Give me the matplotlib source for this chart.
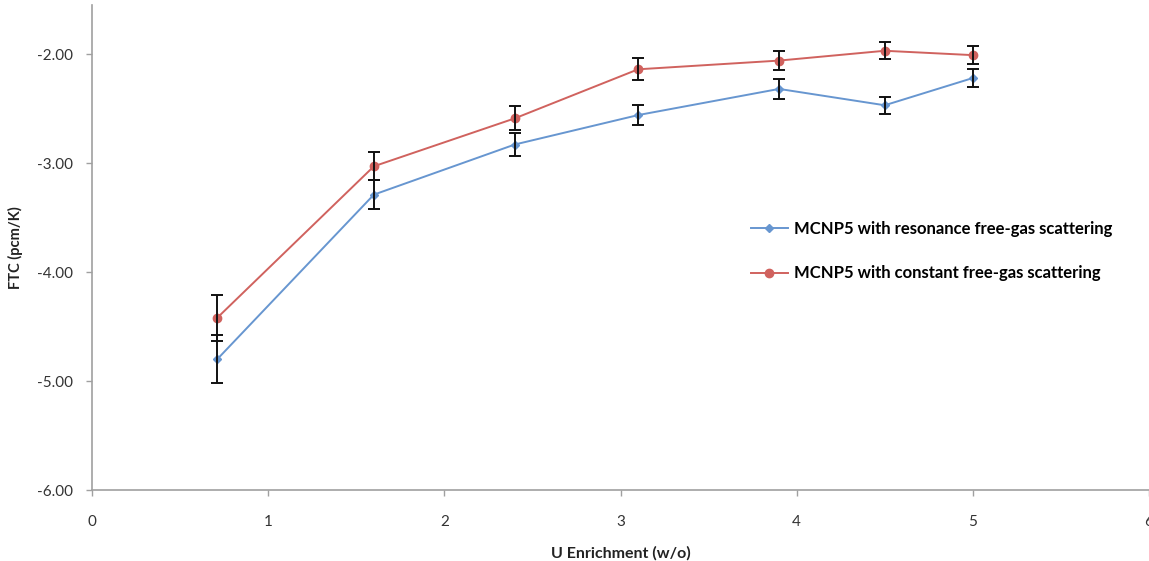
import matplotlib.pyplot as plt
import numpy as np

plt.rcParams['font.family'] = ['Lato', 'DejaVu Sans']

# U enrichment (w/o)
enrich = [0.711, 1.6, 2.4, 3.1, 3.9, 4.5, 5.0]
# FTC (pcm/K)
ftc_res = [-4.80, -3.29, -2.83, -2.56, -2.32, -2.47, -2.22]
err_res = [0.22, 0.13, 0.11, 0.09, 0.09, 0.08, 0.08]
ftc_const = [-4.42, -3.03, -2.59, -2.14, -2.06, -1.97, -2.01]
err_const = [0.21, 0.13, 0.11, 0.10, 0.09, 0.08, 0.08]

label_res = 'MCNP5 with resonance free-gas scattering'
label_const = 'MCNP5 with constant free-gas scattering'

fig = plt.figure(figsize=(11.49, 5.61), dpi=100)
ax = fig.add_axes([92/1149, 71/561, 1 - 92/1149, (490-5)/561])

blue = '#6796D0'
red = '#D0625E'

ax.plot(enrich, ftc_res, '-', color=blue, lw=1.4, marker='D', ms=4, label=label_res)
ax.plot(enrich, ftc_const, '-', color=red, lw=1.4, marker='o', ms=6, label=label_const)
ax.errorbar(enrich, ftc_res, yerr=err_res, fmt='none', ecolor='#111111', elinewidth=1.4, capsize=4, capthick=1.4)
ax.errorbar(enrich, ftc_const, yerr=err_const, fmt='none', ecolor='#111111', elinewidth=1.4, capsize=4, capthick=1.4)

ax.set_xlim(0, 6)
ax.set_ylim(-6, -1.55)
ax.set_xticks(range(7))
ax.set_yticks([-6, -5, -4, -3, -2])
ax.set_yticklabels(['%.2f' % v for v in [-6, -5, -4, -3, -2]])

for s in ['top', 'right']:
    ax.spines[s].set_visible(False)
for s in ['left', 'bottom']:
    ax.spines[s].set_color('#A0A0A0')
    ax.spines[s].set_linewidth(1.2)
ax.tick_params(colors='#A0A0A0', length=4, width=1, labelcolor='#333333', labelsize=11)
ax.tick_params(axis='x', pad=14)
ax.tick_params(axis='y', pad=10)

ax.set_xlabel('U Enrichment (w/o)', fontsize=11.5, fontweight='bold', color='#222222', labelpad=12)
ax.set_ylabel('FTC (pcm/K)', fontsize=10.5, fontweight='bold', color='#222222', labelpad=10)

ax.legend(loc='upper left', bbox_to_anchor=(736/1149, 1 - 206/561), bbox_transform=fig.transFigure,
          frameon=False, prop={'weight': 'bold', 'size': 12}, labelspacing=1.7,
          handlelength=2.2, handletextpad=0.4)

fig.savefig('out.png', dpi=100)
